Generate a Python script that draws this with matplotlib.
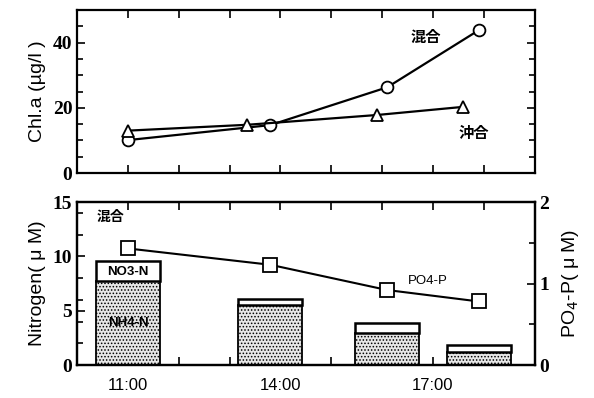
import matplotlib
matplotlib.use('Agg')
import matplotlib.pyplot as plt
from matplotlib.ticker import MultipleLocator, FixedLocator, NullFormatter

plt.rcParams['font.family'] = ['Liberation Sans', 'Noto Sans CJK JP', 'DejaVu Sans']
plt.rcParams['hatch.color'] = '#555555'
plt.rcParams['hatch.linewidth'] = 0.7

# 採水時刻 (時)
t_mix = [11.0, 13.8, 16.1, 17.9]
t_off = [11.0, 13.35, 15.9, 17.6]

# クロロフィルa (μg/l)
chl_mix = [10.1, 14.7, 26.3, 43.8]
chl_off = [13.0, 14.8, 17.8, 20.3]

# 混合域の栄養塩 (μM)
nh4 = [7.75, 5.5, 2.9, 1.2]
no3 = [1.85, 0.6, 1.0, 0.65]
po4 = [1.43, 1.23, 0.92, 0.78]

time_ticks = [11, 14, 17]
time_labels = ['11:00', '14:00', '17:00']

fig = plt.figure(figsize=(5.94, 3.98), dpi=100)
ax1 = fig.add_axes([0.130, 0.5653, 0.770, 0.4095])
ax2 = fig.add_axes([0.130, 0.0829, 0.770, 0.4095])


def bold_serif(labels):
    for lab in labels:
        lab.set_fontfamily('Liberation Serif')
        lab.set_fontweight('bold')


def style_axis(ax):
    for s in ax.spines.values():
        s.set_linewidth(1.6)
    ax.tick_params(which='both', direction='in', top=True, right=True,
                   width=1.2, labelsize=14)
    ax.tick_params(which='major', length=6)
    ax.tick_params(which='minor', length=4)
    ax.set_xlim(10, 19)
    ax.xaxis.set_major_locator(MultipleLocator(1))
    bold_serif(ax.get_yticklabels())


# 上段: Chl.a
ax1.plot(t_mix, chl_mix, '-o', color='black', lw=1.6, ms=8.5,
         mfc='white', mec='black', mew=1.3, zorder=3)
ax1.plot(t_off, chl_off, '-^', color='black', lw=1.6, ms=9,
         mfc='white', mec='black', mew=1.3, zorder=3)
ax1.set_ylim(0, 50)
ax1.yaxis.set_major_locator(FixedLocator([0, 20, 40]))
ax1.yaxis.set_minor_locator(MultipleLocator(5))
ax1.xaxis.set_major_formatter(NullFormatter())
style_axis(ax1)
ax1.set_ylabel('Chl.a (µg/l )', fontsize=14, labelpad=5)
ax1.text(16.85, 41.5, '混合', fontsize=11, ha='center', va='center',
         fontweight='bold')
ax1.text(17.8, 12.0, '沖合', fontsize=11, ha='center', va='center',
         fontweight='bold')

# 下段: 窒素 (積み上げ棒) と PO4-P
bw = 1.26
ax2.bar(t_mix, nh4, width=bw, color='#e6e6e6', edgecolor='black',
        hatch='.....', lw=1.3, zorder=2)
ax2.bar(t_mix, no3, width=bw, bottom=nh4, color='white',
        edgecolor='black', lw=1.8, zorder=2)
ax2.set_ylim(0, 15)
ax2.yaxis.set_major_locator(FixedLocator([0, 5, 10, 15]))
ax2.yaxis.set_minor_locator(MultipleLocator(2))
ax2.set_xticks(time_ticks, time_labels)
ax2.xaxis.set_minor_locator(MultipleLocator(1))
style_axis(ax2)
ax2.tick_params(axis='x', which='major', pad=9, labelsize=12)
ax2.set_ylabel('Nitrogen( μ M)', fontsize=14, labelpad=5)
ax2.text(10.65, 13.6, '混合', fontsize=10, ha='center', va='center',
         fontweight='bold')
ax2.text(11.0, 8.6, 'NO3-N', fontsize=9.5, ha='center', va='center',
         fontweight='bold')
ax2.text(11.0, 3.9, 'NH4-N', fontsize=9.5, ha='center', va='center',
         fontweight='bold')

ax3 = ax2.twinx()
ax3.plot(t_mix, po4, '-s', color='black', lw=1.5, ms=9.5,
         mfc='white', mec='black', mew=1.3, zorder=3)
ax3.set_ylim(0, 2)
ax3.yaxis.set_major_locator(FixedLocator([0, 1, 2]))
ax3.yaxis.set_minor_locator(MultipleLocator(0.5))
ax3.tick_params(which='both', direction='in', width=1.2, labelsize=14)
ax3.tick_params(which='major', length=6)
ax3.tick_params(which='minor', length=4)
bold_serif(ax3.get_yticklabels())
for s in ax3.spines.values():
    s.set_linewidth(1.6)
ax3.set_ylabel('PO$_4$-P( μ M)', fontsize=14, labelpad=8)
ax3.text(16.9, 1.03, 'PO4-P', fontsize=9.5, ha='center', va='center')

fig.savefig('out.png', dpi=100, facecolor='white')
